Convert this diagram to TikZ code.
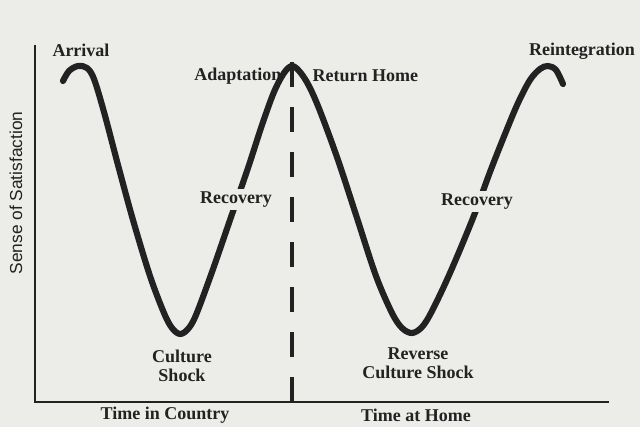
\documentclass[tikz,border=0pt]{standalone}
\usepackage{fontspec}
\setmainfont{Liberation Serif}
\setsansfont{Liberation Sans}
\definecolor{paper}{RGB}{236,236,233}
\definecolor{ink}{RGB}{34,34,34}
\tikzset{
  lbl/.style={font=\fontsize{13.5}{14.5}\selectfont\bfseries, text=ink, inner sep=1pt, align=center},
  cut/.style={lbl, fill=paper, inner sep=2pt},
  wave/.style={line width=4.6pt, draw=ink, line cap=round, line join=round},
  axe/.style={line width=1.1pt, draw=ink},
  split/.style={line width=2.4pt, draw=ink, dash pattern=on 18.75pt off 15pt},
}
\begin{document}
\begin{tikzpicture}[x=0.75pt,y=-0.75pt]
            \fill [paper] (0,0) rectangle (640,427);
            \useasboundingbox (0,0) rectangle (640,427);
            \def\wavepath{plot [smooth,tension=0.55] coordinates {(63,81) (69,71) (78,66) (87,68) (94,79) (104,112) (118,165) (133,220) (150,276) (164,313) (172,328) (180,334) (188,329) (196,315) (212,272) (230,220) (248,168) (262,125) (274,92) (284,73) (292,66) (300,72) (309,86) (320,111) (338,160) (357,218) (376,276) (392,313) (402,328) (412,333) (422,327) (432,311) (450,273) (473,218) (490,172) (505,134) (518,103) (530,80) (540,69) (548,66) (556,70) (563,84)}}
            \coordinate (top) at (35,45);
            \coordinate (O) at (35,402);
            \coordinate (far) at (609,402);
            \coordinate (foot) at (292,402);
            \coordinate (crest) at (292,60);
            \draw [axe] (top) -- (O) -- (far);
            \draw [split] (foot) -- (crest);%drawn upward so the last dash sits on the crest
            \draw [wave] \wavepath;
            \node [lbl] (arrival) at (81,50) {Arrival};
            \node [lbl,anchor=east] (adapt) at (283,76) {Adaptation};
            \node [lbl,anchor=west] (home) at (311,76) {Return Home};
            \node [lbl] (reint) at (582,51) {Reintegration};
            \node [cut] (recov1) at (236,200) {Recovery};
            \node [cut] (recov2) at (477,202) {Recovery};
            \node [lbl] (shock) at (182,366) {Culture\\Shock};
            \node [lbl] (rshock) at (418,363) {Reverse\\Culture Shock};
            \node [lbl] (country) at (165,415) {Time in Country};
            \node [lbl] (athome) at (416,415) {Time at Home};
            \node [font=\sffamily\fontsize{13}{14}\selectfont, text=ink, rotate=90] (sense) at (16,193) {Sense of Satisfaction};
        \end{tikzpicture}
\end{document}
